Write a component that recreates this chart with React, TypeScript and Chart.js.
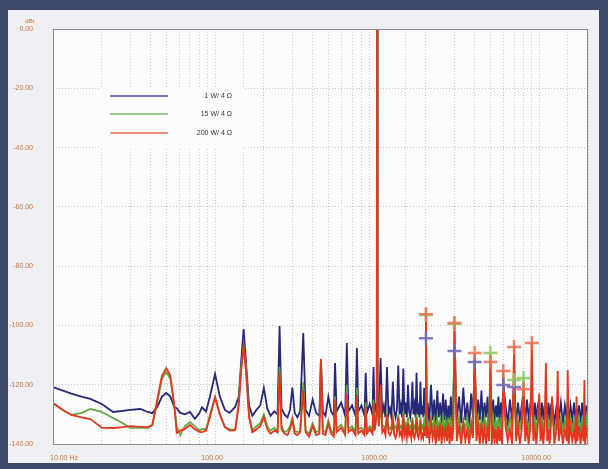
import { useEffect, useRef } from "react";
import { Chart, registerables } from "chart.js";

Chart.register(...registerables);

// ---------- data (frequency in Hz, level in dBr) ----------
const lowFreqs = [
  10, 11.5, 13, 15, 17, 20, 23.5, 27, 30, 34.5,
  38.5, 41, 44, 47, 50, 53, 56, 58, 61, 65,
  70, 75, 80, 83, 88, 93, 100, 107, 115, 123,
  133, 140, 145, 150, 155, 162, 170, 180, 190, 200,
  210, 220, 232, 243, 250, 257, 268, 280, 290, 300,
  310, 322, 335, 350, 362, 380, 400, 420, 440, 450,
  462, 480, 500, 520, 540, 550, 562, 600, 635, 650,
  665, 700, 735, 750, 765, 800, 835, 850, 865, 900,
  935, 950, 965, 980, 995,
];
const lowBlue = [
  -120.8, -122, -123, -124, -124.8, -126.5, -129.2, -128.8, -128.5, -128.2,
  -129.2, -129.6, -127.5, -124, -122.8, -124, -127.5, -127.9, -129.5, -130,
  -129.2, -131.5, -129.6, -127.6, -129, -124, -116.4, -124, -128.5, -129.5,
  -127.5, -124, -112, -101.2, -112, -127, -130.5, -128.5, -127, -121.1,
  -128, -130.5, -129, -130, -100.2, -128, -130, -131, -128.5, -121,
  -129.5, -131, -129, -102.6, -128.5, -130.5, -125, -129.5, -130.5, -111.3,
  -129, -130.5, -124, -129, -130.5, -112.7, -129, -126, -130.5, -105.9,
  -129, -127, -130.5, -107.6, -129, -127, -130.5, -116, -129.5, -126.5,
  -130, -114, -129.5, -127, -126,
];
const lowGreen = [
  -126.2, -128.5, -130.2, -129.5, -128.2, -129.2, -131.2, -133, -134.6, -134.6,
  -134.6, -133.6, -126, -118, -115.7, -118, -127, -134, -137, -134,
  -132.6, -134, -135.5, -135, -135, -130, -124.2, -130, -134.3, -135,
  -135.3, -126, -114, -106.8, -114, -130, -135.5, -134, -133, -130,
  -134, -135.5, -134.5, -136, -114, -134, -136, -135.5, -134, -131,
  -135.5, -136, -135.5, -119, -135.5, -136.5, -133, -136, -135.5, -112,
  -135.5, -136, -132, -135.5, -136.5, -124, -135, -133.5, -136, -120,
  -135, -134, -136, -121, -135, -134.5, -136, -126, -135.5, -134,
  -135.5, -125, -134.5, -132, -128,
];
const lowRed = [
  -126.2, -128.5, -130.2, -131, -131.6, -134.5, -134.6, -134.3, -134, -134.2,
  -134.3, -133.6, -125, -117, -114.4, -117, -127, -136.3, -135.5, -135,
  -133.6, -135, -135.9, -136, -135.5, -131, -124.2, -130, -134.3, -135.5,
  -135.3, -127, -115, -107.3, -115, -131, -136, -135, -134, -131,
  -135, -136.5, -135.5, -136, -115.7, -135, -136.5, -137, -135, -132,
  -136.5, -137, -136, -121.8, -136, -137.5, -134, -137, -136.5, -111.3,
  -136.5, -137, -133, -136.5, -137.5, -125, -136, -134.5, -137, -123,
  -136, -135, -137, -123.5, -136.5, -135.5, -137, -127.5, -136.5, -135,
  -136.5, -126.5, -135.5, -133, -128,
];

const highFreqs = [
  1000, 1005, 1025, 1050, 1075, 1100, 1125, 1150, 1175, 1200,
  1225, 1250, 1275, 1300, 1325, 1350, 1375, 1400, 1425, 1450,
  1475, 1500, 1525, 1550, 1575, 1600, 1625, 1650, 1675, 1700,
  1725, 1750, 1775, 1800, 1825, 1850, 1875, 1900, 1925, 1950,
  1975, 2000, 2025, 2050, 2100, 2150, 2200, 2250, 2300, 2350,
  2400, 2450, 2500, 2550, 2600, 2650, 2700, 2750, 2800, 2850,
  2900, 2950, 3000, 3100, 3200, 3300, 3400, 3500, 3600, 3700,
  3800, 3900, 4000, 4100, 4200, 4300, 4400, 4500, 4600, 4700,
  4800, 4900, 5000, 5100, 5200, 5300, 5400, 5500, 5600, 5700,
  5800, 5900, 6000, 6200, 6400, 6600, 6800, 7000, 7200, 7400,
  7600, 7800, 8000, 8200, 8400, 8600, 8800, 9000, 9200, 9400,
  9600, 9800, 10000, 10200, 10400, 10600, 10800, 11000, 11200, 11400,
  11600, 11800, 12000, 12400, 12800, 13000, 13200, 13600, 14000, 14400,
  14800, 15000, 15200, 15600, 16000, 16400, 16800, 17000, 17200, 17600,
  18000, 18400, 18800, 19000, 19200, 19600, 20000,
];
const highBlue = [
  0, -125, -129, -111, -130, -127, -131, -114, -130, -128,
  -131, -119, -129, -131, -128, -113.5, -130, -127, -131, -114.5,
  -130, -126, -131, -120, -129, -131, -128, -119, -130, -127,
  -131, -116, -130, -128, -131, -119, -130, -127, -131, -121,
  -130, -104.3, -131, -126, -133, -120, -132, -125, -134, -122,
  -131, -126, -133, -123, -132, -125, -134, -127, -132, -124,
  -133, -126, -108.6, -132, -124, -133, -121, -132, -126, -134,
  -123, -131, -112.3, -133, -125, -132, -122, -133, -126, -131,
  -124, -134, -120.8, -132, -125, -133, -127, -131, -124, -134,
  -126, -132, -120.1, -127, -133, -125, -132, -120.8, -133, -126,
  -132, -127, -123, -133, -125, -131, -127, -124, -133, -126,
  -132, -127, -125, -133, -126, -132, -127, -126, -133, -126,
  -132, -127, -126, -133, -127, -126, -132, -126, -133, -127,
  -132, -126, -133, -127, -132, -126, -133, -128, -132, -127,
  -133, -126, -132, -127, -133, -127, -132,
];
const highGreen = [
  0, -127, -133, -128, -134, -134, -135, -130, -134, -135,
  -134, -131, -135, -134, -135, -130, -135, -134, -135, -129,
  -134, -133, -135, -131, -135, -134, -135, -131, -135, -134,
  -135, -130, -134, -135, -134, -131, -135, -134, -135, -132,
  -135, -96.5, -134, -132, -135, -131, -135, -132, -136, -131,
  -135, -132, -136, -131, -135, -132, -136, -131, -135, -132,
  -136, -131, -99.5, -135, -131, -136, -132, -135, -131, -136,
  -132, -135, -110.5, -136, -131, -135, -132, -136, -131, -135,
  -132, -136, -109.3, -135, -131, -136, -132, -135, -131, -136,
  -132, -135, -123, -132, -136, -131, -135, -118.4, -136, -132,
  -135, -131, -117.7, -136, -132, -135, -131, -121, -136, -132,
  -135, -131, -126, -135, -132, -136, -131, -125, -136, -132,
  -135, -131, -130, -136, -132, -129, -135, -131, -136, -132,
  -135, -129, -136, -131, -135, -132, -136, -130, -135, -131,
  -136, -132, -135, -130, -136, -131, -135,
];
const highRed = [
  0, -127, -134, -120, -136, -135, -137, -130, -136, -137,
  -136, -132, -137, -138, -136, -131, -137, -136, -138, -130,
  -137, -135, -138, -133, -137, -136, -138, -132, -137, -138,
  -136, -131, -137, -138, -136, -132, -138, -137, -138, -134,
  -137, -96.2, -138, -134, -139, -133, -138, -135, -140, -134,
  -139, -133, -140, -134, -138, -135, -139, -133, -140, -134,
  -139, -135, -99.2, -139, -134, -140, -133, -139, -135, -140,
  -134, -138, -109.3, -139, -134, -140, -133, -139, -135, -140,
  -134, -139, -112.3, -140, -134, -139, -135, -140, -134, -139,
  -135, -140, -115.4, -134, -139, -135, -140, -107.3, -139, -134,
  -140, -135, -121.5, -139, -134, -140, -135, -105.9, -139, -135,
  -140, -134, -123, -139, -135, -140, -134, -112.7, -139, -135,
  -140, -134, -124, -140, -135, -115.4, -139, -134, -140, -135,
  -139, -115, -140, -134, -139, -135, -140, -124, -139, -134,
  -140, -135, -139, -118.4, -140, -134, -139,
];

// harmonic markers
const harmonicFreqs = [2000, 3000, 4000, 5000, 6000, 7000, 8000, 9000];
const markerRed = [-96.2, -99.2, -109.3, -112.3, -115.4, -107.3, -121.5, -105.9];
const markerGreen = [-96.5, -99.5, null, -109.3, null, -118.4, -117.7, null];
const markerBlue = [-104.3, -108.6, -112.3, null, -120.1, -120.8, null, null];

const seriesLabels = ["1 W/ 4 Ω", "15 W/ 4 Ω", "200 W/ 4 Ω"];
const yTicks = [0, -20, -40, -60, -80, -100, -120, -140];
const xTickValues = [10, 100, 1000, 10000];
const xTickLabels = ["10.00 Hz", "100.00", "1000.00", "10000.00"];

const COLORS = {
  blue: "#27287a",
  green: "#5aa83c",
  red: "#e4361c",
  legendBlue: "#4b4c9c",
  legendGreen: "#82b868",
  legendRed: "#ec6c58",
  mBlue: "rgba(110,110,190,0.9)",
  mGreen: "rgba(140,200,100,0.85)",
  mRed: "rgba(240,110,80,0.85)",
  tick: "#c8743c",
};

function pts(freqs: number[], vals: (number | null)[]) {
  return freqs.map((f, i) => ({ x: f, y: vals[i] ?? null }));
}

export default function App() {
  const ref = useRef<HTMLCanvasElement | null>(null);

  useEffect(() => {
    const canvas = ref.current;
    if (!canvas) return;
    const freqs = [...lowFreqs, ...highFreqs];
    const blue = [...lowBlue, ...highBlue];
    const green = [...lowGreen, ...highGreen];
    const red = [...lowRed, ...highRed];

    const font = '"Liberation Sans", Arial, sans-serif';

    const framePlugin = {
      id: "frame",
      beforeDraw(chart: any) {
        const { ctx, chartArea: a } = chart;
        ctx.save();
        ctx.fillStyle = "#fcfcfc";
        ctx.fillRect(a.left, a.top, a.right - a.left, a.bottom - a.top);
        ctx.restore();
      },
      afterDraw(chart: any) {
        const { ctx, chartArea: a } = chart;
        const xs = chart.scales.x;
        ctx.save();
        ctx.strokeStyle = "#8c8c8c";
        ctx.lineWidth = 1;
        ctx.setLineDash([]);
        ctx.strokeRect(a.left + 0.5, a.top + 0.5, a.right - a.left - 1, a.bottom - a.top);
        ctx.font = `7px ${font}`;
        ctx.fillStyle = COLORS.tick;
        ctx.textBaseline = "middle";
        xTickValues.forEach((v, i) => {
          const px = xs.getPixelForValue(v);
          ctx.textAlign = i === 0 ? "left" : "center";
          ctx.fillText(xTickLabels[i], px - 3, 458);
        });
        ctx.font = `6px ${font}`;
        ctx.textAlign = "center";
        ctx.fillText("dBr", 30, 21);
        // legend
        ctx.fillStyle = "#fcfcfc";
        ctx.fillRect(99, 87, 145, 61);
        const lc = [COLORS.legendBlue, COLORS.legendGreen, COLORS.legendRed];
        const ly = [96, 114, 133];
        ctx.lineWidth = 1.5;
        lc.forEach((c, i) => {
          ctx.strokeStyle = c;
          ctx.beginPath();
          ctx.moveTo(110, ly[i]);
          ctx.lineTo(168, ly[i]);
          ctx.stroke();
        });
        ctx.font = `7px ${font}`;
        ctx.fillStyle = "#333333";
        ctx.textAlign = "right";
        seriesLabels.forEach((t, i) => ctx.fillText(t, 232, ly[i]));
        ctx.restore();
      },
    };

    const lineDs = (label: string, data: any, color: string, order: number, w: number) => ({
      label,
      data,
      borderColor: color,
      backgroundColor: color,
      borderWidth: w,
      pointRadius: 0,
      tension: 0,
      order,
    });
    const markDs = (label: string, data: any, color: string, order: number) => ({
      label,
      data,
      showLine: false,
      pointStyle: "cross",
      pointRadius: 7,
      pointBorderWidth: 2.5,
      pointBorderColor: color,
      pointBackgroundColor: color,
      borderColor: color,
      order,
    });

    const chart = new Chart(canvas, {
      type: "line",
      data: {
        datasets: [
          markDs("m200", pts(harmonicFreqs, markerRed), COLORS.mRed, 0),
          markDs("m15", pts(harmonicFreqs, markerGreen), COLORS.mGreen, 1),
          markDs("m1", pts(harmonicFreqs, markerBlue), COLORS.mBlue, 2),
          lineDs(seriesLabels[2], pts(freqs, red), COLORS.red, 3, 1.8),
          lineDs(seriesLabels[1], pts(freqs, green), COLORS.green, 4, 1.7),
          lineDs(seriesLabels[0], pts(freqs, blue), COLORS.blue, 5, 1.8),
        ] as any,
      },
      options: {
        animation: false,
        responsive: false,
        maintainAspectRatio: false,
        layout: { padding: { top: 29, right: 20, left: 0, bottom: 0 } },
        plugins: { legend: { display: false }, tooltip: { enabled: false } },
        scales: {
          x: {
            type: "logarithmic",
            min: 10,
            max: 20000,
            afterFit: (s: any) => {
              s.height = 25;
            },
            grid: { color: "#c6c6c6", lineWidth: 1, drawTicks: false },
            border: { display: false, dash: [1, 2] },
            ticks: { display: false },
          },
          y: {
            type: "linear",
            min: -140,
            max: 0,
            afterFit: (s: any) => {
              s.width = 53;
            },
            afterBuildTicks: (s: any) => {
              s.ticks = yTicks.map((v) => ({ value: v }));
            },
            grid: { color: "#c6c6c6", lineWidth: 1, drawTicks: false },
            border: { display: false, dash: [1, 2] },
            ticks: {
              padding: 20,
              color: COLORS.tick,
              font: { size: 7, family: font },
              callback: (v: any) => Number(v).toFixed(2),
            },
          },
        },
      } as any,
      plugins: [framePlugin],
    });
    return () => chart.destroy();
  }, []);

  return (
    <div
      style={{
        position: "fixed",
        left: 0,
        top: 0,
        width: 608,
        height: 469,
        background: "#3b4868",
        overflow: "hidden",
      }}
    >
      <div
        style={{
          position: "absolute",
          left: 8,
          top: 10,
          width: 591,
          height: 453,
          background: "#eff0f3",
        }}
      />
      <canvas
        ref={ref}
        width={608}
        height={469}
        style={{ position: "absolute", left: 0, top: 0, width: 608, height: 469 }}
      />
    </div>
  );
}
